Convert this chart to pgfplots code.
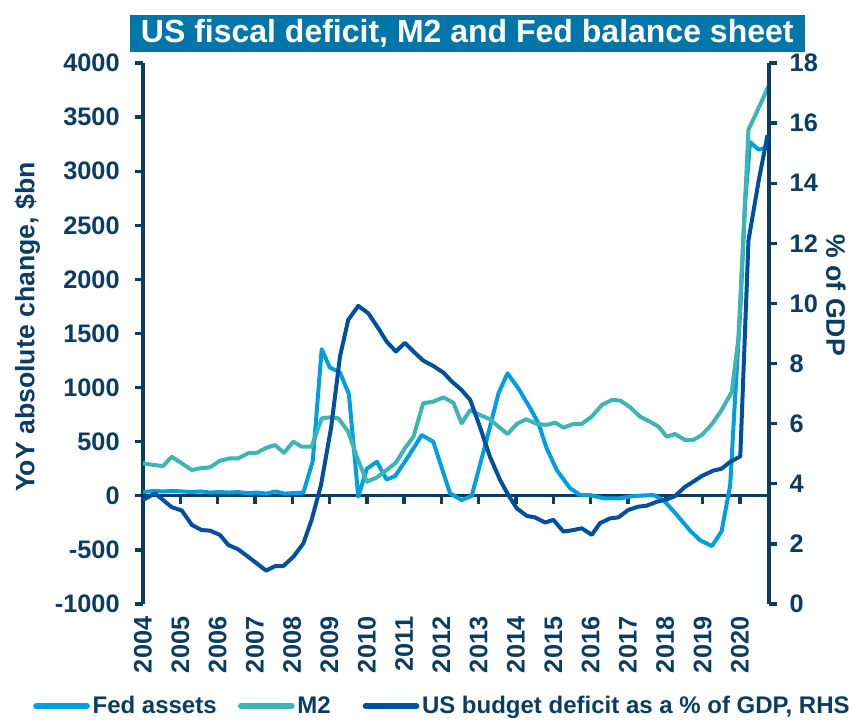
\documentclass[border=0pt]{standalone}
\usepackage{pgfplots}
\pgfplotsset{compat=1.18}
\usepackage{fontspec}
\setmainfont{Liberation Sans}
\definecolor{navy}{HTML}{0B3C62}
\definecolor{titlebg}{HTML}{0077A8}
\definecolor{fedc}{HTML}{00A0E0}
\definecolor{m2c}{HTML}{3DB5B5}
\definecolor{defc}{HTML}{0050A0}

\pgfplotstableread{
t v
2004.00 35
2004.30 45
2004.55 40
2004.80 45
2005.05 40
2005.30 35
2005.55 40
2005.80 30
2006.05 35
2006.30 30
2006.55 35
2006.80 25
2007.05 30
2007.30 20
2007.55 40
2007.80 20
2008.05 25
2008.30 30
2008.55 320
2008.79 1355
2009.01 1185
2009.28 1140
2009.52 940
2009.77 -8
2010.00 250
2010.27 315
2010.53 150
2010.76 183
2011.02 315
2011.29 460
2011.47 562
2011.78 500
2012.23 23
2012.54 -39
2012.81 -2
2013.21 516
2013.53 947
2013.77 1132
2014.06 993
2014.38 809
2014.60 670
2014.82 439
2015.09 238
2015.45 69
2015.72 7
2015.98 7
2016.34 -23
2016.79 -23
2017.14 -2
2017.68 7
2017.95 -39
2018.31 -177
2018.66 -320
2018.93 -410
2019.25 -465
2019.51 -328
2019.74 100
2019.87 900
2020.01 1717
2020.14 2707
2020.27 3270
2020.50 3200
2020.76 3220
}\fed

\pgfplotstableread{
t v
2004.00 300
2004.28 285
2004.54 275
2004.77 361
2005.04 300
2005.31 238
2005.53 254
2005.80 263
2006.06 324
2006.33 346
2006.55 346
2006.82 393
2007.05 398
2007.32 445
2007.54 469
2007.78 398
2008.03 500
2008.25 454
2008.52 454
2008.79 716
2009.01 725
2009.24 716
2009.50 593
2009.73 362
2010.00 130
2010.27 170
2010.53 238
2010.78 306
2011.02 439
2011.25 546
2011.51 855
2011.78 870
2012.05 910
2012.32 860
2012.54 670
2012.77 793
2013.03 747
2013.30 707
2013.53 639
2013.77 571
2014.02 664
2014.27 707
2014.56 664
2014.82 655
2015.05 676
2015.27 630
2015.54 664
2015.76 664
2016.03 732
2016.30 840
2016.57 886
2016.79 880
2017.06 818
2017.32 732
2017.59 685
2017.82 639
2018.04 546
2018.26 571
2018.53 516
2018.75 516
2018.98 562
2019.25 661
2019.51 793
2019.78 958
2019.96 1452
2020.09 2376
2020.23 3384
2020.50 3582
2020.76 3780
}\mtwo

\pgfplotstableread{
t v
2004.00 3.46
2004.32 3.68
2004.54 3.46
2004.77 3.22
2005.04 3.11
2005.31 2.63
2005.57 2.46
2005.80 2.44
2006.06 2.30
2006.29 1.96
2006.55 1.82
2006.82 1.57
2007.05 1.35
2007.30 1.11
2007.54 1.26
2007.76 1.26
2008.03 1.57
2008.30 2.02
2008.52 2.80
2008.77 3.95
2009.04 5.85
2009.28 8.23
2009.50 9.45
2009.77 9.92
2010.04 9.67
2010.31 9.17
2010.53 8.73
2010.78 8.40
2011.02 8.69
2011.25 8.40
2011.51 8.10
2011.78 7.92
2012.05 7.70
2012.28 7.40
2012.54 7.12
2012.77 6.79
2013.03 5.90
2013.30 4.90
2013.57 4.13
2013.79 3.63
2014.02 3.18
2014.29 2.93
2014.51 2.88
2014.78 2.71
2015.00 2.80
2015.27 2.41
2015.54 2.46
2015.76 2.52
2016.03 2.30
2016.25 2.69
2016.52 2.85
2016.74 2.88
2017.01 3.13
2017.28 3.24
2017.50 3.27
2017.77 3.40
2018.04 3.48
2018.26 3.59
2018.53 3.90
2018.75 4.07
2018.98 4.26
2019.29 4.44
2019.51 4.50
2019.74 4.73
2020.01 4.91
2020.23 12.10
2020.50 14.06
2020.74 15.60
}\deficit

\begin{document}
\begin{tikzpicture}[font=\fontsize{18}{21}\selectfont\bfseries]
\useasboundingbox (-107.25pt,-87pt) rectangle (530.25pt,453pt);
\pgfplotsset{
  base/.style={
    scale only axis, width=469.5pt, height=405.75pt,
    xmin=2004, xmax=2020.78,
    /pgf/number format/assume math mode=true,
    /pgf/number format/1000 sep={},
    ticklabel style={font=\fontsize{19}{22}\selectfont\bfseries, text=navy},
    label style={font=\fontsize{20}{24}\selectfont\bfseries, text=navy},
    every tick/.style={navy, line width=2.5pt},
    axis line style={navy, line width=2.5pt, -},
    tick align=outside, major tick length=6pt,
    clip=false,
  }
}
\begin{axis}[base,
  ymin=-1000, ymax=4000, ytick={-1000,-500,...,4000},
  axis y line*=left, axis x line*=bottom,
  x axis line style={draw=none},
  xtick={2004,...,2020},
  xticklabel style={rotate=90, anchor=east},
  x tick style={draw=none},
  yticklabel style={xshift=-8pt},
  ylabel={YoY absolute change, \$bn},
  ylabel style={at={(rel axis cs:-0.185,0.512)}, anchor=center},
  legend style={at={(-0.1757,-0.1885)}, anchor=west, draw=none, fill=none,
    legend columns=3, font=\fontsize{18}{21}\selectfont\bfseries, text=navy,
    inner sep=0pt, /tikz/every even column/.append style={column sep=2pt},
    /tikz/every odd column/.append style={column sep=0pt}},
  legend cell align=left,
  legend image code/.code={\draw[#1, line width=4.5pt, line cap=round] (0pt,0pt) -- (38pt,0pt);},
]
\draw[navy, line width=2.5pt] (axis cs:2004,0) -- (axis cs:2020.78,0);
\pgfplotsinvokeforeach{2005,2006,2007,2008,2009,2010,2011,2012,2013,2014,2015,2016,2017,2018,2019,2020}{
  \draw[navy, line width=2.5pt] (axis cs:#1,0) -- ++(0pt,-6pt);
}
\node[fill=titlebg, text=white, font=\fontsize{24}{28}\selectfont\bfseries,
  minimum width=506pt, minimum height=27.75pt, inner sep=0pt]
  at (rel axis cs:0.518,1.0545) {US fiscal deficit, M2 and Fed balance sheet};
\node[rotate=-90, text=navy, font=\fontsize{20}{24}\selectfont\bfseries, anchor=center]
  at (rel axis cs:1.107,0.571) {\% of GDP};
\addplot[fedc, line width=3pt, line join=round] table[x=t, y=v] {\fed};
\addlegendentry{Fed assets\rule{12pt}{0pt}}
\addplot[m2c, line width=3pt, line join=round] table[x=t, y=v] {\mtwo};
\addlegendentry{M2\rule{20pt}{0pt}}
\addlegendimage{defc, line width=3pt}
\addlegendentry{US budget deficit as a \% of GDP, RHS}
\end{axis}
\begin{axis}[base,
  ymin=0, ymax=18, ytick={0,2,...,18},
  axis y line*=right, axis x line=none,
  yticklabel style={xshift=6pt},
]
\addplot[defc, line width=3pt, line join=round] table[x=t, y=v] {\deficit};
\end{axis}
\end{tikzpicture}
\end{document}
